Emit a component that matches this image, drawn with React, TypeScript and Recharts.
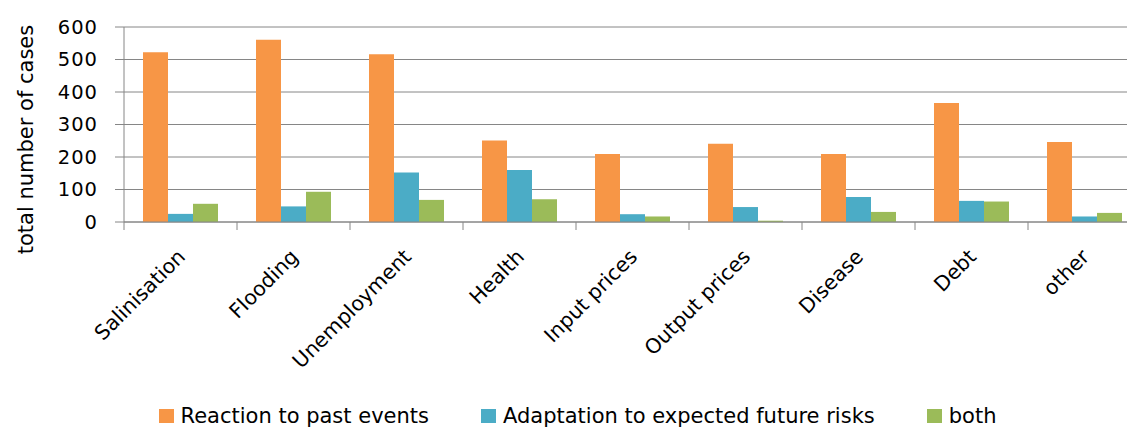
import React from 'react';
import { BarChart, Bar, XAxis, YAxis, CartesianGrid, Label } from 'recharts';

const categories = ['Salinisation', 'Flooding', 'Unemployment', 'Health', 'Input prices', 'Output prices', 'Disease', 'Debt', 'other'];
const pastEvents = [522, 561, 516, 251, 209, 241, 209, 366, 246];
const futureRisks = [25, 48, 152, 160, 24, 46, 77, 65, 17];
const bothValues = [56, 93, 68, 70, 17, 4, 31, 63, 28];
const yTicks = [0, 100, 200, 300, 400, 500, 600];

const seriesNames = ['Reaction to past events', 'Adaptation to expected future risks', 'both'];
const colors = ['#F79646', '#4BACC6', '#9BBB59'];

const data = categories.map((c, i) => ({
  name: c,
  past: pastEvents[i],
  future: futureRisks[i],
  both: bothValues[i],
}));

const FONT = '"DejaVu Sans", sans-serif';
const AXIS = '#868686';
const CHART_W = 1160;
const CHART_H = 429;
const MARGIN = { top: 27, right: 19, bottom: 0, left: 0 };
const Y_W = 124;
const BAND = (CHART_W - MARGIN.right - MARGIN.left - Y_W) / categories.length;

const XTick = (props: any) => {
  const { x, y, payload, index } = props;
  const half = BAND / 2;
  const last = index === categories.length - 1;
  return (
    <g>
      <line x1={x - half} x2={x - half} y1={y - 8} y2={y} stroke={AXIS} strokeWidth={1} />
      {last && <line x1={x + half} x2={x + half} y1={y - 8} y2={y} stroke={AXIS} strokeWidth={1} />}
      <text
        transform={`translate(${x + 6},${y + 28}) rotate(-45)`}
        textAnchor="end"
        fontFamily={FONT}
        fontSize={20.5}
        fill="#000"
      >
        {payload.value}
      </text>
    </g>
  );
};

const YTitle = () => (
  <text
    transform={`translate(33,139.5) rotate(-90)`}
    textAnchor="middle"
    fontFamily={FONT}
    fontSize={21}
    fill="#000"
  >
    total number of cases
  </text>
);

export default function App() {
  return (
    <div
      style={{
        position: 'absolute',
        left: 0,
        top: 0,
        width: 1127,
        height: 429,
        overflow: 'hidden',
        background: '#fff',
      }}
    >
      <BarChart
        width={CHART_W}
        height={CHART_H}
        data={data}
        margin={MARGIN}
        barCategoryGap={19}
        barGap={0}
      >
        <CartesianGrid vertical={false} stroke={AXIS} strokeWidth={1} />
        <XAxis
          dataKey="name"
          height={CHART_H - MARGIN.top - 195}
          tickLine={false}
          tickSize={8}
          tickMargin={0}
          axisLine={{ stroke: AXIS, strokeWidth: 1 }}
          tick={<XTick />}
          interval={0}
        />
        <YAxis
          width={Y_W}
          domain={[0, 600]}
          ticks={yTicks}
          interval={0}
          tickSize={9}
          tickMargin={17}
          axisLine={{ stroke: AXIS, strokeWidth: 1 }}
          tickLine={{ stroke: AXIS, strokeWidth: 1 }}
          tick={{ fontFamily: FONT, fontSize: 19.5, fill: '#000', letterSpacing: 1 }}
        >
          <Label content={<YTitle />} />
        </YAxis>
        <Bar dataKey="past" name={seriesNames[0]} fill={colors[0]} isAnimationActive={false} />
        <Bar dataKey="future" name={seriesNames[1]} fill={colors[1]} isAnimationActive={false} />
        <Bar dataKey="both" name={seriesNames[2]} fill={colors[2]} isAnimationActive={false} />
      </BarChart>
      <div
        style={{
          position: 'absolute',
          left: 0,
          top: 404,
          width: 1155,
          display: 'flex',
          justifyContent: 'center',
          alignItems: 'flex-start',
          fontFamily: FONT,
          fontSize: 21,
          lineHeight: '24px',
          color: '#000',
          whiteSpace: 'nowrap',
        }}
      >
        {seriesNames.map((n, i) => (
          <div key={n} style={{ display: 'flex', alignItems: 'flex-start', marginLeft: i === 0 ? 0 : 52 }}>
            <div style={{ width: 15, height: 14, marginTop: 5, marginRight: 7, background: colors[i] }} />
            <span>{n}</span>
          </div>
        ))}
      </div>
    </div>
  );
}
